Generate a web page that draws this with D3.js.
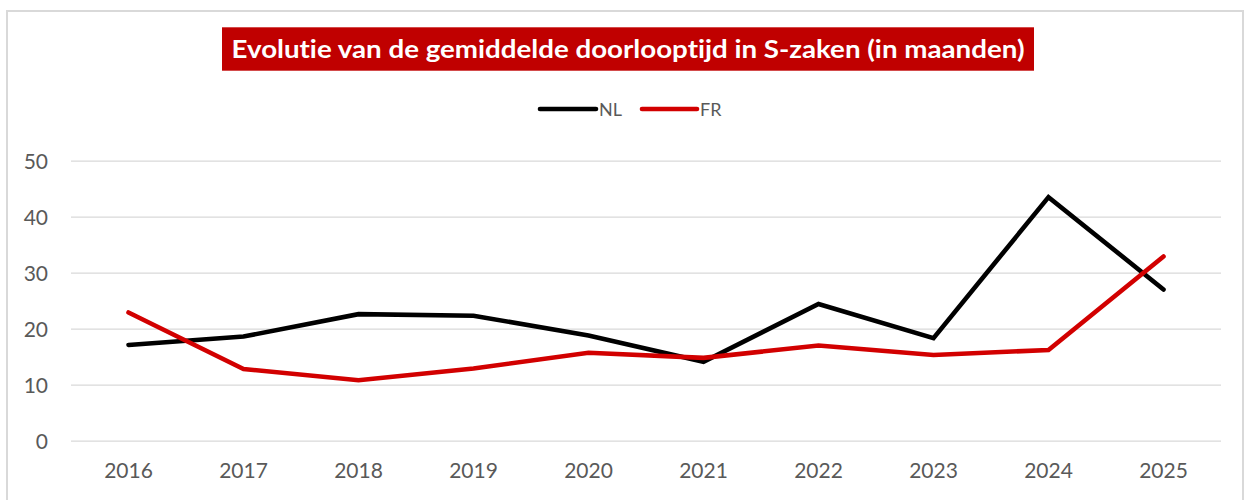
<!DOCTYPE html>
<html>
<head>
<meta charset="utf-8">
<script src="https://cdn.jsdelivr.net/npm/d3@7"></script>
<style>
  html, body { margin: 0; padding: 0; background: #ffffff; }
  svg { display: block; }
  text { font-variant-ligatures: none; font-feature-settings: "liga" 0, "clig" 0; }
</style>
</head>
<body>
<svg id="chart" width="1250" height="500"></svg>
<script>
// Average processing time of S-cases (months), per year
const years = ["2016", "2017", "2018", "2019", "2020", "2021", "2022", "2023", "2024", "2025"];
const nlValues = [17.1, 18.6, 22.6, 22.3, 18.8, 14.1, 24.4, 18.3, 43.5, 27.0];
const frValues = [22.9, 12.8, 10.8, 12.9, 15.7, 14.8, 17.0, 15.3, 16.2, 32.9];
const yTicks = [0, 10, 20, 30, 40, 50];
const seriesNames = ["NL", "FR"];

const titleText = "Evolutie van de gemiddelde doorlooptijd in S-zaken (in maanden)";
const colors = { NL: "#000000", FR: "#d20000" };

const svg = d3.select("#chart");

// outer frame
svg.append("rect")
  .attr("x", 7).attr("y", 11)
  .attr("width", 1236).attr("height", 500)
  .attr("fill", "#ffffff")
  .attr("stroke", "#d9d9d9")
  .attr("stroke-width", 2);

// plot area
const plot = { left: 71, right: 1221, top: 160.7, bottom: 440.7 };

const x = d3.scaleBand().domain(years).range([plot.left, plot.right]);
const y = d3.scaleLinear().domain([0, 50]).range([plot.bottom, plot.top]);

// horizontal gridlines + y labels
const yAxis = d3.axisLeft(y)
  .tickValues(yTicks)
  .tickSize(-(plot.right - plot.left))
  .tickPadding(23);
const gy = svg.append("g")
  .attr("transform", `translate(${plot.left},0)`)
  .call(yAxis);
gy.select(".domain").remove();
gy.selectAll(".tick line").attr("stroke", "#d9d9d9").attr("stroke-width", 1.3);
gy.selectAll(".tick text")
  .attr("fill", "#595959")
  .attr("font-family", "Lato, 'Open Sans', sans-serif")
  .attr("font-size", 21)
  .attr("dy", "0.36em");

// x labels
const xAxis = d3.axisBottom(x).tickSize(0).tickPadding(22);
const gx = svg.append("g")
  .attr("transform", `translate(0,${plot.bottom})`)
  .call(xAxis);
gx.select(".domain").remove();
gx.selectAll(".tick text")
  .attr("fill", "#595959")
  .attr("font-family", "Lato, 'Open Sans', sans-serif")
  .attr("font-size", 21);

// lines
const line = d3.line()
  .x((d, i) => x(years[i]) + x.bandwidth() / 2)
  .y(d => y(d));

const series = [
  { name: "NL", values: nlValues },
  { name: "FR", values: frValues }
];

svg.append("g").selectAll("path")
  .data(series)
  .join("path")
  .attr("d", d => line(d.values))
  .attr("fill", "none")
  .attr("stroke", d => colors[d.name])
  .attr("stroke-width", 4.6)
  .attr("stroke-linecap", "round")
  .attr("stroke-linejoin", "miter");

// title box
const titleG = svg.append("g");
titleG.append("rect")
  .attr("x", 222).attr("y", 27.3)
  .attr("width", 812).attr("height", 43.4)
  .attr("fill", "#c00000");
titleG.append("text")
  .attr("x", 628).attr("y", 58.3)
  .attr("text-anchor", "middle")
  .attr("font-family", "Lato, 'Open Sans', sans-serif")
  .attr("font-weight", "bold")
  .attr("font-size", 24.5)
  .attr("fill", "#ffffff")
  .attr("textLength", 793)
  .attr("lengthAdjust", "spacingAndGlyphs")
  .text(titleText);

// legend
const legendItems = [
  { name: seriesNames[0], x1: 540, x2: 596, tx: 599 },
  { name: seriesNames[1], x1: 642, x2: 697, tx: 700 }
];
const lg = svg.append("g");
legendItems.forEach(d => {
  lg.append("line")
    .attr("x1", d.x1).attr("x2", d.x2)
    .attr("y1", 109).attr("y2", 109)
    .attr("stroke", colors[d.name])
    .attr("stroke-width", 4.6)
    .attr("stroke-linecap", "round");
  lg.append("text")
    .attr("x", d.tx).attr("y", 116)
    .attr("font-family", "Lato, 'Open Sans', sans-serif")
    .attr("font-size", 18)
    .attr("fill", "#595959")
    .text(d.name);
});
</script>
</body>
</html>
